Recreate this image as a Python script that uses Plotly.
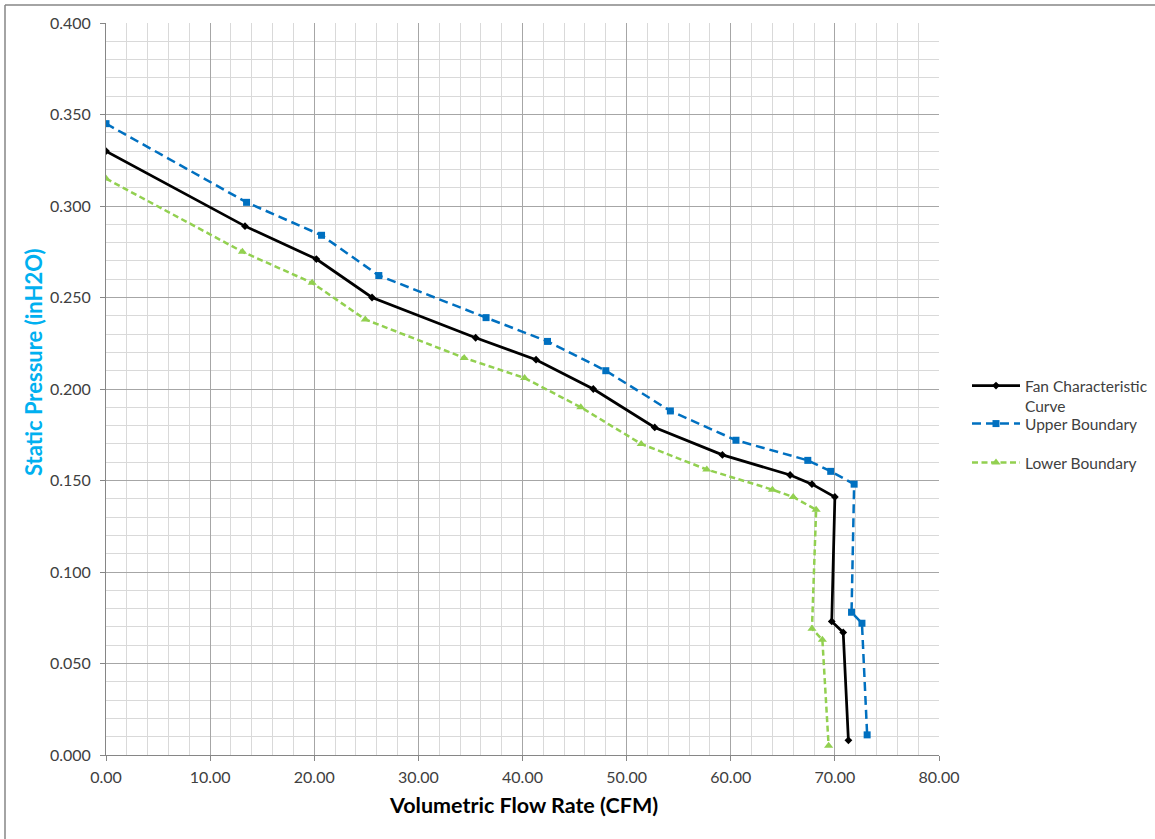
import plotly.graph_objects as go

fan_x = [0.0, 13.35, 20.2, 25.55, 35.5, 41.3, 46.8, 52.7, 59.2, 65.7, 67.8, 70.0, 69.7, 70.8, 71.3]
fan_y = [0.330, 0.289, 0.271, 0.250, 0.228, 0.216, 0.200, 0.179, 0.164, 0.153, 0.148, 0.141, 0.073, 0.067, 0.008]

upper_x = [0.0, 13.5, 20.7, 26.2, 36.5, 42.4, 48.0, 54.2, 60.5, 67.4, 69.6, 71.85, 71.6, 72.6, 73.1]
upper_y = [0.345, 0.302, 0.284, 0.262, 0.239, 0.226, 0.210, 0.188, 0.172, 0.161, 0.155, 0.148, 0.078, 0.072, 0.011]

lower_x = [0.0, 13.1, 19.8, 24.9, 34.4, 40.2, 45.6, 51.4, 57.7, 64.0, 66.0, 68.2, 67.8, 68.8, 69.4]
lower_y = [0.315, 0.275, 0.258, 0.238, 0.217, 0.206, 0.190, 0.170, 0.156, 0.145, 0.141, 0.134, 0.069, 0.063, 0.005]

names = ["Fan Characteristic<br>Curve", "Upper Boundary", "Lower Boundary"]
x_title = "Volumetric Flow Rate (CFM)"
y_title = "Static Pressure (inH2O)"

FONT = "Lato, 'Open Sans', sans-serif"

fig = go.Figure()
fig.add_trace(go.Scatter(x=fan_x, y=fan_y, name=names[0], mode="lines+markers", legend="legend",
                         line=dict(color="black", width=2.75),
                         marker=dict(symbol="diamond", size=6, color="black")))
fig.add_trace(go.Scatter(x=upper_x, y=upper_y, name=names[1], mode="lines+markers", legend="legend2",
                         line=dict(color="#0070C0", width=2.5, dash="9px,5px"),
                         marker=dict(symbol="square", size=7, color="#0070C0")))
fig.add_trace(go.Scatter(x=lower_x, y=lower_y, name=names[2], mode="lines+markers", legend="legend3",
                         line=dict(color="#92D050", width=2.5, dash="6px,3.5px"),
                         marker=dict(symbol="triangle-up", size=8, color="#92D050")))

# target plot area in window pixels: x 106..939, y 23..755 (body margin removed below)
L, T, B = 106, 23, 84
W, H = 1155, 839
pw, ph = 833, 732
R = W - L - pw


def px_x(px):
    return (px - L) / pw


def px_y(py):
    return (T + ph - py) / ph


leg_common = dict(xanchor="left", yanchor="top", valign="top",
                  font=dict(family=FONT, size=15.5, color="#404040"),
                  itemwidth=48, bgcolor="rgba(0,0,0,0)", tracegroupgap=0)

fig.update_layout(
    width=W, height=H,
    margin=dict(l=L, r=R, t=T, b=B, autoexpand=False),
    paper_bgcolor="white", plot_bgcolor="white",
    font=dict(family=FONT, size=16, color="#404040"),
    showlegend=True,
    legend=dict(x=px_x(967), y=px_y(369), **leg_common),
    legend2=dict(x=px_x(967), y=px_y(407), **leg_common),
    legend3=dict(x=px_x(967), y=px_y(446), **leg_common),
    xaxis=dict(range=[0, 80], tick0=0, dtick=10, tickformat=".2f", automargin=False,
               showgrid=True, gridcolor="#A6A6A6", gridwidth=1,
               minor=dict(dtick=2, showgrid=True, gridcolor="#D9D9D9", gridwidth=1),
               showline=True, linecolor="#868686", linewidth=1,
               ticks="outside", ticklen=5, tickcolor="#868686",
               ticklabelstandoff=3, zeroline=False),
    yaxis=dict(range=[0, 0.4], tick0=0, dtick=0.05, tickformat=".3f", automargin=False,
               showgrid=True, gridcolor="#A6A6A6", gridwidth=1,
               minor=dict(dtick=0.01, showgrid=True, gridcolor="#D9D9D9", gridwidth=1),
               showline=True, linecolor="#868686", linewidth=1,
               ticks="outside", ticklen=5, tickcolor="#868686",
               ticklabelstandoff=6, zeroline=False),
)

fig.add_annotation(text="<b>" + x_title + "</b>", xref="paper", yref="paper",
                   x=px_x(523), y=px_y(805), xanchor="center", yanchor="middle",
                   showarrow=False, font=dict(family=FONT, size=21.5, color="black"))
fig.add_annotation(text="<b>" + y_title + "</b>", xref="paper", yref="paper",
                   x=px_x(33), y=px_y(362), xanchor="center", yanchor="middle", textangle=-90,
                   showarrow=False, font=dict(family=FONT, size=22, color="#00B0F0"))

# outer chart border (only left and top edges fall inside the picture)
border = dict(color="#868686", width=1.5)
fig.add_shape(type="line", xref="paper", yref="paper",
              x0=px_x(5), x1=px_x(W + 10), y0=px_y(5), y1=px_y(5), line=border)
fig.add_shape(type="line", xref="paper", yref="paper",
              x0=px_x(5), x1=px_x(5), y0=px_y(5), y1=px_y(H + 10), line=border)

fig.write_html("out.html", config={"displayModeBar": False},
               post_script="document.body.style.margin='0px';")
